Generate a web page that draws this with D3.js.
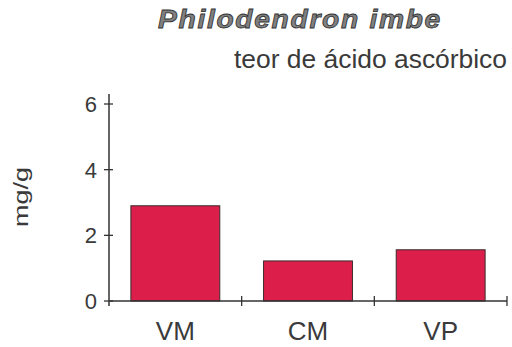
<!DOCTYPE html>
<html>
<head>
<meta charset="utf-8">
<script src="https://cdn.jsdelivr.net/npm/d3@7"></script>
<style>
  html, body { margin: 0; padding: 0; background: #fff; }
  svg { display: block; }
  text { font-family: Arial, "Liberation Sans", sans-serif; fill: #3a3a3a; }
</style>
</head>
<body>
<svg id="chart" width="512" height="347"></svg>
<script>
// Ascorbic acid content (mg/g) per sample group
const categories = ["VM", "CM", "VP"];
const values = [2.9, 1.22, 1.56];
const yTicks = [0, 2, 4, 6];
const titleText = "Philodendron imbe";
const subtitleText = "teor de ácido ascórbico";
const yLabel = "mg/g";

const svg = d3.select("#chart");
const plotLeft = 109, plotRight = 507, plotTop = 104, plotBottom = 301;

const x = d3.scaleBand()
  .domain(categories)
  .range([plotLeft, plotRight])
  .paddingInner(0.33)
  .paddingOuter(0.165);

const y = d3.scaleLinear().domain([0, 6]).range([plotBottom, plotTop]);

const axisColor = "#333";

// Bars
svg.selectAll("rect.bar")
  .data(values)
  .join("rect")
  .attr("class", "bar")
  .attr("x", (d, i) => x(categories[i]))
  .attr("y", d => y(d))
  .attr("width", x.bandwidth())
  .attr("height", d => y(0) - y(d))
  .attr("fill", "#dc1f4a")
  .attr("stroke", "#3a2a2a")
  .attr("stroke-width", 1);

// Y axis line (runs a little above the top tick)
svg.append("line")
  .attr("x1", plotLeft).attr("x2", plotLeft)
  .attr("y1", y(6) - 10).attr("y2", y(0) + 5)
  .attr("stroke", axisColor).attr("stroke-width", 1.5);

// Y ticks crossing the axis
svg.selectAll("line.ytick")
  .data(yTicks)
  .join("line")
  .attr("class", "ytick")
  .attr("x1", plotLeft - 5).attr("x2", plotLeft + 4)
  .attr("y1", d => y(d)).attr("y2", d => y(d))
  .attr("stroke", axisColor).attr("stroke-width", 1.3);

svg.selectAll("text.ylab")
  .data(yTicks)
  .join("text")
  .attr("class", "ylab")
  .attr("x", plotLeft - 12)
  .attr("y", d => y(d) + 8)
  .attr("text-anchor", "end")
  .attr("font-size", 22)
  .text(d => d);

// X axis line
svg.append("line")
  .attr("x1", plotLeft).attr("x2", plotRight)
  .attr("y1", y(0)).attr("y2", y(0))
  .attr("stroke", axisColor).attr("stroke-width", 1.5);

// Category separators on the x axis
const step = x.step();
const sepX = categories.map((c, i) => plotLeft + step * (i + 1));
svg.selectAll("line.xtick")
  .data(sepX)
  .join("line")
  .attr("class", "xtick")
  .attr("x1", d => d).attr("x2", d => d)
  .attr("y1", y(0) - 5).attr("y2", y(0) + 5)
  .attr("stroke", axisColor).attr("stroke-width", 1.3);

// Category labels
svg.selectAll("text.xlab")
  .data(categories)
  .join("text")
  .attr("class", "xlab")
  .attr("x", d => x(d) + x.bandwidth() / 2)
  .attr("y", 340)
  .attr("text-anchor", "middle")
  .attr("font-size", 26)
  .text(d => d);

// Y axis title
svg.append("text")
  .attr("transform", "translate(28,197) rotate(-90)")
  .attr("text-anchor", "middle")
  .attr("font-size", 21)
  .attr("textLength", 60)
  .attr("lengthAdjust", "spacingAndGlyphs")
  .text(yLabel);

// Title (outlined bold italic, wide) and subtitle
svg.append("text")
  .attr("x", 158).attr("y", 28)
  .attr("font-size", 25)
  .attr("font-weight", "bold")
  .attr("font-style", "italic")
  .attr("letter-spacing", 1.5)
  .attr("textLength", 284)
  .attr("lengthAdjust", "spacingAndGlyphs")
  .style("fill", "#808080")
  .style("stroke", "#333")
  .style("stroke-width", 0.8)
  .text(titleText);

svg.append("text")
  .attr("x", 234).attr("y", 68)
  .attr("font-size", 25)
  .attr("textLength", 273)
  .attr("lengthAdjust", "spacingAndGlyphs")
  .text(subtitleText);
</script>
</body>
</html>
